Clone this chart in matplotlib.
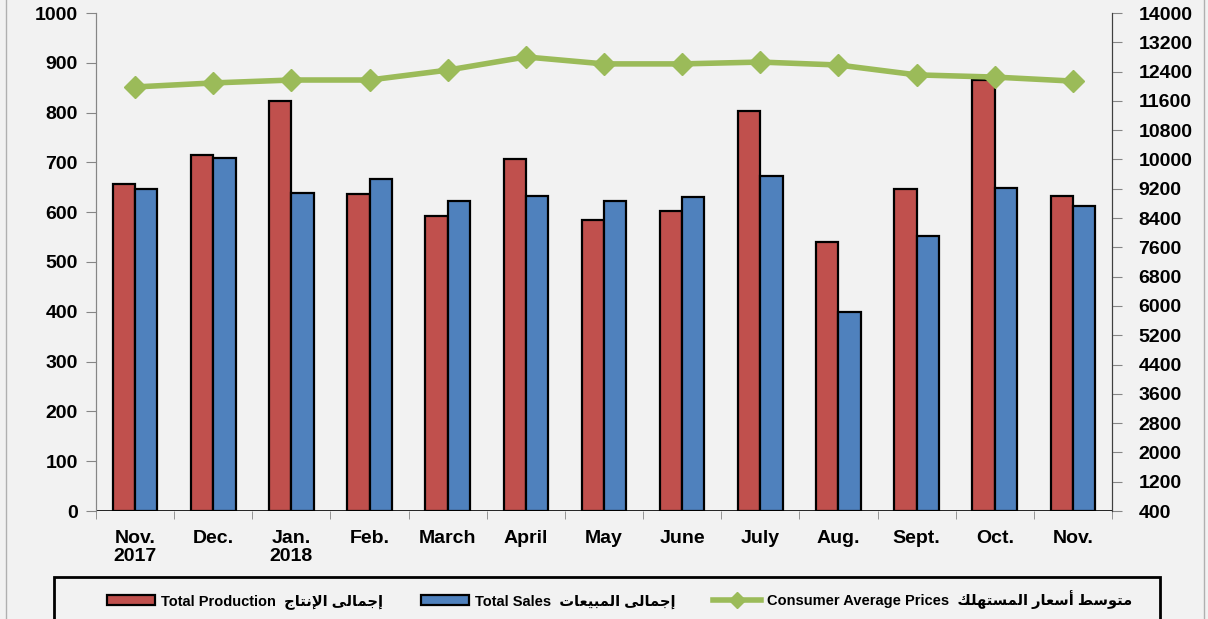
import matplotlib
matplotlib.use("Agg")
import matplotlib.pyplot as plt
import matplotlib.patches as mpatches
from matplotlib.lines import Line2D
import numpy as np

months = ["Nov.\n2017", "Dec.", "Jan.\n2018", "Feb.", "March", "April", "May",
          "June", "July", "Aug.", "Sept.", "Oct.", "Nov."]
production = [656, 714, 823, 636, 592, 707, 584, 603, 804, 541, 646, 866, 633]
sales = [646, 709, 639, 666, 622, 633, 622, 631, 673, 400, 553, 649, 612]
prices = [11980, 12090, 12170, 12170, 12440, 12800, 12610, 12610, 12660, 12580,
          12310, 12250, 12140]

# arabic letter forms (isolated, final, initial, medial) - presentation forms B
FORMS = {
    "\u0627": (0xFE8D, 0xFE8E), "\u0623": (0xFE83, 0xFE84), "\u0625": (0xFE87, 0xFE88),
    "\u0628": (0xFE8F, 0xFE90, 0xFE91, 0xFE92), "\u062A": (0xFE95, 0xFE96, 0xFE97, 0xFE98),
    "\u062C": (0xFE9D, 0xFE9E, 0xFE9F, 0xFEA0), "\u0631": (0xFEAD, 0xFEAE),
    "\u0633": (0xFEB1, 0xFEB2, 0xFEB3, 0xFEB4), "\u0637": (0xFEC1, 0xFEC2, 0xFEC3, 0xFEC4),
    "\u0639": (0xFEC9, 0xFECA, 0xFECB, 0xFECC), "\u0643": (0xFED9, 0xFEDA, 0xFEDB, 0xFEDC),
    "\u0644": (0xFEDD, 0xFEDE, 0xFEDF, 0xFEE0), "\u0645": (0xFEE1, 0xFEE2, 0xFEE3, 0xFEE4),
    "\u0646": (0xFEE5, 0xFEE6, 0xFEE7, 0xFEE8), "\u0647": (0xFEE9, 0xFEEA, 0xFEEB, 0xFEEC),
    "\u0648": (0xFEED, 0xFEEE), "\u0649": (0xFEEF, 0xFEF0),
    "\u064A": (0xFEF1, 0xFEF2, 0xFEF3, 0xFEF4),
}
LAMALEF = {"\u0627": (0xFEFB, 0xFEFC), "\u0625": (0xFEF9, 0xFEFA), "\u0623": (0xFEF7, 0xFEF8)}


def shape(text):
    # join letters then reverse to visual order
    chars = list(text)
    out = []
    i = 0
    prev_joins = False
    while i < len(chars):
        c = chars[i]
        if c not in FORMS:
            out.append(c)
            prev_joins = False
            i += 1
            continue
        if c == "\u0644" and i + 1 < len(chars) and chars[i + 1] in LAMALEF:
            f = LAMALEF[chars[i + 1]]
            out.append(chr(f[1] if prev_joins else f[0]))
            prev_joins = False
            i += 2
            continue
        f = FORMS[c]
        nxt = chars[i + 1] if i + 1 < len(chars) else None
        next_joins = len(f) == 4 and nxt in FORMS
        if prev_joins and next_joins:
            g = f[3]
        elif prev_joins:
            g = f[1]
        elif next_joins:
            g = f[2]
        else:
            g = f[0]
        out.append(chr(g))
        prev_joins = len(f) == 4
        i += 1
    return "".join(out[::-1])


plt.rcParams['font.family'] = ['Liberation Sans', 'DejaVu Sans']
plt.rcParams['font.weight'] = 'bold'

bg = '#f2f2f2'
W, H = 1208, 619
fig = plt.figure(figsize=(12.08, 6.19), dpi=100, facecolor=bg)
ax = fig.add_axes([96/W, 1-511/H, (1112-96)/W, (511-13)/H])
ax.set_facecolor(bg)
ax2 = ax.twinx()

x = np.arange(len(months))
w = 0.285
ax.bar(x - w/2, production, w, color='#C0504D', edgecolor='black', linewidth=1.6, zorder=3)
ax.bar(x + w/2, sales, w, color='#4F81BD', edgecolor='black', linewidth=1.6, zorder=3)
ax2.plot(x, prices, color='#9BBB59', linewidth=4, marker='D', markersize=11, zorder=4)

ax.set_xlim(-0.5, len(months) - 0.5)
ax.set_ylim(0, 1000)
ax.set_yticks(np.arange(0, 1001, 100))
ax2.set_ylim(400, 14000)
ax2.set_yticks(np.arange(400, 14001, 800))

ax.set_xticks(x)
ax.set_xticklabels(months, fontsize=14, fontweight='bold', linespacing=1.05)
ax.tick_params(axis='x', length=0, pad=14)
ax.set_xticks(np.arange(-0.5, len(months), 1), minor=True)
ax.tick_params(axis='x', which='minor', length=6, color='#868686')
ax.tick_params(axis='y', labelsize=14, length=7, color='#868686', pad=6)
ax2.tick_params(axis='y', labelsize=14, length=7, color='#868686', pad=12)
for t in ax.get_yticklabels() + ax2.get_yticklabels():
    t.set_fontweight('bold')

for a in (ax, ax2):
    a.spines['top'].set_visible(False)
    a.spines['left'].set_color('#868686')
    a.spines['right'].set_color('#404040')
    a.spines['bottom'].set_visible(False)
ax.axhline(0, color='black', linewidth=1.2, zorder=5)

# outer chart frame
fig.add_artist(mpatches.Rectangle((6/W, -0.01), (1204-6)/W, 1.02, fill=False,
                                  edgecolor='#b0b0b0', linewidth=1, transform=fig.transFigure))
# legend box
fig.add_artist(mpatches.Rectangle((54/W, -0.02), (1160-54)/W, 1-577/H+0.02, fill=False,
                                  edgecolor='black', linewidth=2, transform=fig.transFigure))

handles = [
    mpatches.Patch(facecolor='#C0504D', edgecolor='black', linewidth=1.6),
    mpatches.Patch(facecolor='#4F81BD', edgecolor='black', linewidth=1.6),
    Line2D([], [], color='#9BBB59', linewidth=4, marker='D', markersize=8),
]
labels = [
    "Total Production  " + shape("إجمالى الإنتاج"),
    "Total Sales  " + shape("إجمالى المبيعات"),
    "Consumer Average Prices  " + shape("متوسط أسعار المستهلك"),
]
leg = fig.legend(handles, labels, loc='center left', bbox_to_anchor=(107/W, 1-600/H),
                 ncol=3, frameon=False, prop={'size': 10.5, 'weight': 'bold'},
                 handlelength=3.3, handleheight=0.7, handletextpad=0.4,
                 columnspacing=2.6, borderpad=0, borderaxespad=0)

fig.savefig('out.png', dpi=100, facecolor=bg)
